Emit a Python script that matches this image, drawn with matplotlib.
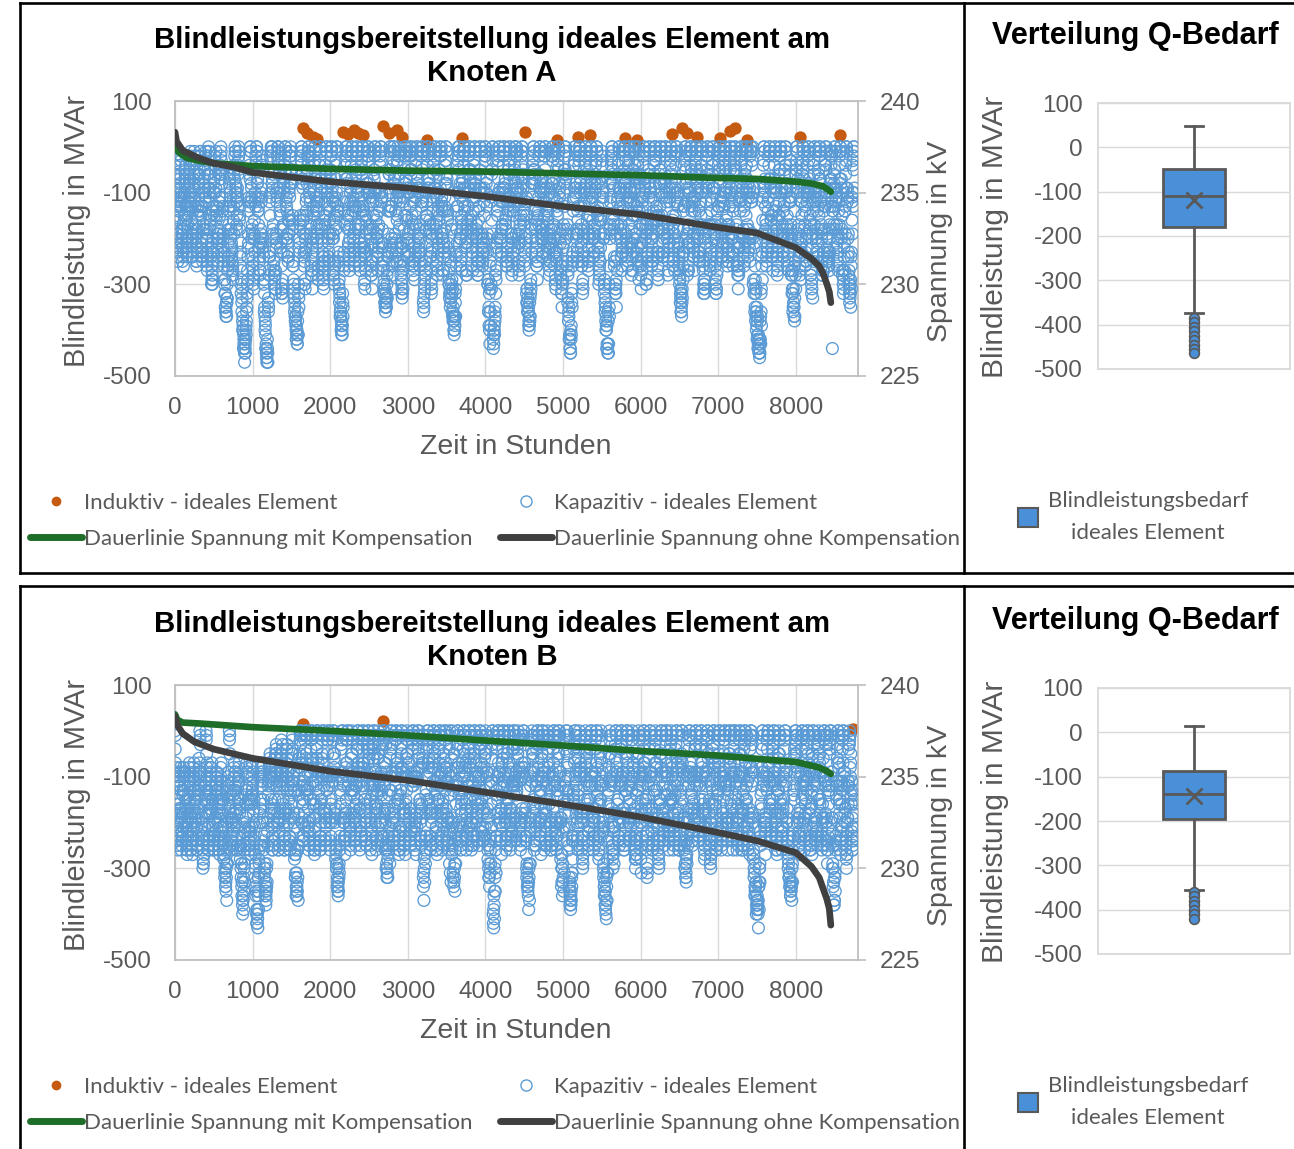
import numpy as np
import matplotlib
matplotlib.use("Agg")
import matplotlib.pyplot as plt
from matplotlib.lines import Line2D
from matplotlib.patches import Patch

# -----------------------------
# Daten (vier Reihen im 10-h-Raster, je um einige Stunden versetzt)
# Kapazitive Blindleistung kodiert:
#   klein: a = 0, b = -20, c = -40 ... x = -460 MVAr
#   gross: A = -10, B = -30, C = -50 ... X = -470 MVAr
# -----------------------------
schritt_h = 10
versatz_h = [0, 5, 2, 7]

q_kap_a_codes = ["""
adgkmhecfj lnieckmgdb fjmhcegknj dbhlmfcejg
kndbgjmpoh ecfilnkgdb dhkmpqsrnj egkmohdbfj
fcaimprtuv wvtqmhdagk npkgcaehlo kfclpsuwxv
rmgbaejnpo kfbadhlqpj ecagkmifba dinqstuvtp
libaeimpkg dbafjnolhc aehkogcaej mpnidafkmh
dafkoigcah mprsutqmgc aeilnjfbag kmhdafjnlg
cahlpmieab fjnolgdafi kmjfbaglnp qrrpmhdahl
naekmgcafj noqlgbaeim kfbadinolg caekmjfbag
rpnifbaejm pkgcafjnmh dabgkolhca eimpqnjqst
tqmhcafkni ebahlojfba dimkgcaejn ohdafkmlfb
aekpsqngda vusolhcafk mjfbaeinlg cagkomhdaf
aflnjfbadi mkgqrstrpj ecadhlnigb aejmkfbagk
hmnkfbaejm pmhcafkoqn jdaeknrtvw uqmgcafkmh
baejnpkfba dinkfbagkm jecahlpnie bfkprtuwsn
jebadinqpk gcafjmlhda ekmgcagloi dafkmhcaej
nlgbaejpmi dafjnkgcab hmoidaeimj ebagkolfba
dinkfbagln prsqmhcaek ojfbadhlmg caekmhdafj
nqpkfbaejn lgcafkpqmh caejmlgbad ilnjeafkmh
cadjnolgba ekmhdafjmk fbagkpqstu vwwvtqmgca
ejnlgbaeim kfbahmoidb afkmhdafjn kgcjoqsrnh
daekmolgca fjnkfbaeio pkgcafkmhd aejnomhcaf
kmnjebgwhd afjnkgbaek oplhcafkoq pmgcaf
""", """
BEHLJFDGKM IFCHLKGEBD GKJDBFIMLH ECAGKLGDBF
JMCAFILOMG DBEHKMJFCA CGJLORSQMI DFJLNGCAEI
EBAHLOQSUW VTRNJFCAEI MOJFBADGKN JEBKORTVXW
QLFAADIMON JEAACGKPOI DBAFJLHEAA CHMPRSTVUQ
KHAADHLOJF CAAEIMNKGB ADGJNFBADI LOMHCAEJLG
CAEJNHFBAG LOQRTUSLFB ADHKMIEAAF JLGCAEIMKF
BAGKOLHDAA EIMNKFCAEH JLIEAAFKMO PQRQLGCAGK
MADJLFBAEI MNPKFAADHL JEAACHMNKF BADJLIEAAF
QOMHEAADIL OJFBAEIMLG CAAFJNKGBA DHLOPMIPRS
SPLGBAEJMH DAAGKNIEAA CHLJFBADIM NGCAEJLKEA
ADJORPMFCA UTRNKGBAEJ LIEAADHMKF BAFJNLGCAE
AEKMIEAACH LJFPQRSQOI DBACGKMHFA ADILJEAAFJ
GLMJEAADIL OLGBAEJNPM ICADJMQSUW TPLFBAEJLG
AADIMOJEAA CHMJEAAFJL IDBAGKOMHD AEJOQSTVWR
IDAACHMPOJ FBAEILKGCA DJLFBAFKNH CAEJLGBADI
MKFAADIOLH CAEIMJFBAA GLNHCADHLI DAAFJNKEAA
CHMJEAAFKM OQRPLGBADJ NIEAACGKLF BADJLGCAEI
MPOJEAADIM KFBAEJOPLG BADILKFAAC HKMIDAEJLG
BACIMNKFAA DJLGCAEILJ EAAFJOPRST UVWVSPLFBA
DIMKFAADHL JEAAGLNHCA AEJLGCAEIM JFBINPRSQM
CADJLNKFBA EIMJEAADHN OJFBAEJLGC ADIMNLGBAE
JLMIDAFEGC AEIMJFAADJ NOKGBAEJNP OLFBAE
""", """
cfjlihdbgk mjfdilkhec gimkdbfjlh edbhkmjfcb
jmdafilnpk fbdhkmjgca eilnqsrpmh dfjlnicaeg
gdbjnqsuwv wusplgcaej moifbaehlm jgbkmqtwxw
somfaadkoq lgaacfjnqk fbadhkmieb ejnprtvusq
kjcaeinplh ecabgkomkf adgjnhcafk nomgcaekmi
ebagkpnjfa hnqsturnhd bagjmkgcah lnjebafkmh
dbahlnjfba egkomjfbag kmlhcafjnq rsqomhdafk
ocadhlifbd glpqnjebaf kmjfbagjnm hdaflnkgca
sqojgcaeim qlhdbafkol ifbahkmjea dhlpqrpstu
urnjfbaekm jgcafkoida ejnlhcafkm oidaflnkga
bfkpsuspia wutqnkfbag kjgcafjnmh dahlnkgcae
bgkoigcaeh nlgrssutqk ebaejmnkhd afkmjgbaeh
iloljebakn olgbaejnqp lfbadjosvw vrnhcaejli
caflnqmgca ejmlgcaeim kfdaeimoli cgkqsuwwtp
kgcaejmpqm hdafkmnjfb aflnhdafjm kgcadglnhd
omhcafkpnj eafkmlhdaa imnjebafjm kdafkmjgca
ejmlgcafjm oqsrnjfbag lnjfcagkmh dbafjmkgca
mpqlgbadjn mhdafjnqoi dbagkmjfca fjmkfbagkn
dbaflnolhc afjnlgcaej lkgcaflnqs tvwxvsniea
fimkhcaeil mhcafjnlgb afjmkgcaek mldgkoqrto
cafjmnkgda ehmlgcafjo qlhdagkmjf bagkomjfca
lnmkfcbhje aglmkhcafj oqmhdagmpr qnifba
""", """
DGJMKGEBFJ LHDGKLIFCA FJLEAGKMJG DBAHLMIECA
LNEAEHKNOL HCAGJLKHDB FJMORSQNKG EGKMOJDAFH
FCAGKNPTVX WUQOKGDAFJ NPLGCAFIMN KFCLOSUWXX
RNHBAEJNPP KFBBEHLPQL ECAGKMJFCA DIOQSTUVUR
LIBAEJMPLH DBAFJNPLHD AFIKOIDAEK MPNIDAFKMJ
DAFJOMIDAH MPSSUTRNID AAHKNLHDAG KMIEAAGLNI
CAHLPNJEBA FJNPMHDAEJ LNKGBAFKNP RRQNJEAAGL
PBAEKMHDAF KOQPMHCAEK LKGCAEIMOL IEAEKMLGCA
RPNKHDAEJN PMIECAFJNK HEAGJNLFBA EKNQRQOSSU
TSOKGCAFLN IEAEJNKGCA DILNJEAFJL MJEAEJMLHB
AGLOTVTPJB VUSOLHDAFK LIEAEIMLGC AFJMKHDAFJ
ADJNKHDAEI MKHPRTTSPL FCADILOMIE AEJLKHCAEI
HKNMKFBAFL PMHCAFKORO KGCAEINRUW URMJEAFJMJ
BAEKMPLGBA FJNMHDAFJL JEBAHLNMJF BFJPRTVWVS
JFBAEIMPRN IEAGJNLHEA BEKMIEAEKN LHDADHMOKF
PNIDAEJOMK FAEJLMIEAB HLOLGCAFKL JDAEIMKFBA
EIKNHDAGKL NPSQOLGCAE KNKGDAFJNI ECAEIMLHDA
NOPKHCAEIN LIEAEIMPNK GCAFJMKGBA EIMLGCAFJL
CAEKMPNJFB AEJMKHDAFK MJFBAEKOPR SUWWVTOJEA
GJLLJDAEHK NIDAEJMKHC AEILJEAEHL NKEFJNPRSP
BAEILOLHCA DGLMJFBAEI PQMIEAFLKH DAFJNNLGCA
MLNLGDAGIE AFKLNIDAEH NPNJEAFLOQ RPJGCA
"""]

q_kap_b_codes = ["""
aeimkgfjnl hefjmnkgei mnjfeikmnh fdaglnpmig
aeinmjfeim nkgfjmnige hlnoqrpkgf ajmnkhefjm
ngeinprtsp lhefilnmie gjmpruvsoj fegknqstpk
gedfjmnjfd cgknkgdbei mnjecfjmnh dbgkoqsrnh
daekmigbad hlnkfbaein lgcaehmnid afjmkfbagk
nifbadkopr rpmhcafkmj ebagkmhdaf jmkgcaejnl
gbaeimkfba dinlgcafjm hdagkmhcae jnpqomhdaf
kmjfbaeinl hcafjnmida ekmjfbagln kfbadimjeb
qomhcaeimn jebadhlnif bagkmidafj mkgcafknqr
pmgcaehlni ebafjmkgca ejnmhdafkm igcaeilmhd
afjnpqmgca uspmhcafkm jebagkmida ejnlgcagkm
hcaflnjeba ejmprrpkfb adinkgcaek mhdafjnlgb
aeimnkfbag kmhdafkorp ligcaeinrt sqmhcafjmh
caekmojfba dinlgcafjm kfbahmoida fkprstqmhd
afjnolgcae imkgcafjnm hdaekmigba ejnomhdafk
njfbaeimpk gcafjnmhca eknoidafjm kfbahlmica
einlgcaejn mhdafknpqo kfbaehlmig cafjmkgcae
ilnjfbadim okgcaeinmh daflnjfbag kmhdaeimkf
bagkmidafj nmhcaeilnj ebagkoqsru ttrpmhcafk
mkfbaeimlg cafjnmhdae ilnjfbagkn pqrsrpmhdb
aekmnjfbag kmigcaejnm hdafkmlgca eimnkfbagk
nmhcafkprt qmgcaeimlg bafjnokgca ehlnmi
""", """
AEHLJFEIML GEEIKMJFDH LMIEDHJLMG EDAFKMOLHF
ADHMLIEDHL MJFEILMHFD GKMNPQOJFE AILMJGDEIL
MFDHMOQSRO KGDEHKMLHD FILOQTUROI EDFJMPRSOJ
FDCEILMIEC BFJMJFCCEH LMIDBEILMG CAFJNPRQMG
CADJLHFAAC GKMJEAADHM KFBADGLMHC AEILJEAAFJ
MHEAACJNOQ QOLGBAEJLI DAAFJLGCAE ILJFBADIMK
FAADHLJEAA CHMKFBAEIL GCAFJLGBAD IMOPNLGCAE
JLIEAADHMK GBAEIMLHCA DJLIEAAFKM JEAACHLIDA
PNLGBADHLM IDAACGKMHE AAFJLHCAEI LJFBAEJMPQ
OLFBADGKMH DAAEILJFBA DIMLGCAEJL HFBADHKLGC
AEIMOPLFBA TROLGBAEJL IDAAFJLHCA DIMKFBAFJL
GBAEKMIDAA DILOQQOJEA ACHMJFBADJ LGCAEIMKFA
ADHLMJEAAF JLGCAEJNQO KHFBADHMQS RPLGBAEILG
BADJLNIEAA CHMKFBAEIL JEAAGLNHCA EJOQRSPLGC
AEIMNKFBAD HLJFBAEIML GCADJLHFAA DIMNLGCAEJ
MIEAADHLOJ FBAEIMLGBA DJMNHCAEIL JEAAGKLHBA
DHMKFBADIM LGCAEJMOPN JEAADGKLHF BAEILJFBAD
HKMIEAACHL NJFBADHMLG CAEKMIEAAF JLGCADHLJE
AAFJLHCAEI MLGBADHKMI DAAFJNPRQT SSQOLGBAEJ
LJEAADHLKF BAEIMLGCAD HKMIEAAFJM OPQRQOLGCA
ADJLMIEAAF JLHFBADIML GCAEJLKFBA DHLMJEAAFJ
MLGBAEJOQS PLFBADHLKF AAEIMNJFBA DGKMLH
""", """
cfjnligekm jfgkmnlhfj nlkgfhjmnj gebfkmomjh
bfjnkhegjn mlhfhknmjf ijmoprqnig bhkmljfgkn
ohfjoqsuqn kigfjmnlhf hknqsvuqnk gefimprsrl
hfeginmkge dgjnljfdcg knjfdgkmni ecfjnqrsqj
ebagkmjfca gkmlgcadim nidafjmnkf bagkmjfbaf
mkgbaejnpq sqnifbagkm jfbaflnjeb hkmigcafkm
ecagkmjfca cgkmhdagkn idbfjmkfba gknpqnjfca
lmkgbadhmn ieaejmljfb bfjmlgcafk mjfcaekmid
rpnjfbadjm kgcaejnmjg cafjnljeba ekmnlhdagk
qnieagkmmj fcaeinlgda ekmkgcafjm jfbaflmjec
bgkoqrnida vtqnjfbagk mhdafjnkgc afkmlgcafj
gdbekmkfba fkmqrsqlgc bejmlgbafk lifbaekmjc
bfkmnlgcag lnkebagkps qmjfbafjqs tromidagkn
dbfjnpkgcb ejmlgcagkn lgcaeinkgb glqsturoie
bgkmpnjdaf jmkgcagkmn jfbagkmjfb fkmpomiebg
okgcafjnql hdaflnkgcb fjmpmieagk lhdafknlgb
fjmkhdagkn lieagkmpqm lgcafjmljf cagkmlgcaf
jmokgcaejn pmidafjnlh ebagkmjfba gknkgdafjn
cahlnkfbag lnjfbagkml fcaejnprst surplieagk
ljgcafjmki dbagkmnjfb jmligcaekm oqrsrnkgca
bfjnlkgcah lnjfbafjmn ieagkmlhdb fjmlidafjm
mnigbaglpt qnhdagjnmi cagkmpligb fimnjh
""", """
DHKMIFEGJL KGEHKNLIFG JMNKGFHKMI GEBEJLONKG
CGKMLIFHKM LJGEGJLNKH FHLNPRSOKH CGJLMKHEGK
MHFIMOQSTQ MJGEHKMNKG EHKNRTVTPM HFEHLOQRQM
FEDHKLMKHE CEHLMIEDBF JLMKGEHLMJ FCEGKNPRSM
FBADHLKGDA EIMLHDAFJN MJEAEIMLHD AEIMKGCAEI
LJFCAEIMOR RPMJEAFJNL HDAEKMKGCA GJMKHDAEIL
FDBAHLMIDB AEJNLGCAEI MKFBAEIMLH DBEILMOKGB
MLJEAEHLNK GCAEIMNKGC ADIMKFBAEJ NKFBAHLMJD
SQOLHDAEIL MJFBAFKNLH DBAEIMKGDA FJMOPQNKGC
ROKFBAEILL KGCADHLMKH CAFJMLHDAE IMKGBAEILK
CAEJMPOKEA VURPLHDAEI NKFCAEIMLH DAEILJFBAE
FCAFJLJEAB GLNPRTSOKF CAEIMKFBAG LNJFBAEIMH
CAGKMMIDAF KMLGCAEJNQ RPKGCAGKRT SPLHDAFJMK
EAEIMOLHDA FIMKHDAEJL MIDAFJMLHD FKPRTUSPKF
CAFKNOKEAE HLMJFBAEIM KGCAEJLKGC EJLNNKGCAF
PLHDAEIMPM IEAEJMKGDA GKNOLHCAEJ MIEAEJLKHC
GKLLIEAFJM MKHDAEJNQO MIEAEIMKIE BAEJLKHDAE
KLNJEAFKMO NLGCAEIMKG DAFJLKHCAF JLJFCAEILK
DAEILMJFCA EIMKHDAFJL NJEBAEKOQS TVTQMIEAFK
NKGDAFILLH CAFJLNKGCA FJLKHDAEIL NPQRSQLHEB
CAEJLNLHDA FJLKGCAEIM NKFBAEJMLH CAEJLMJFBA
OKGCAEJMQS RMHDAFJNKG DAEILNJFBA CFJLKG
"""]

# induktive Blindleistung (einzelne Stunden)
h_ind_a = [1650, 1700, 1780, 1830, 2170, 2230, 2300, 2360, 2420, 2680, 2760, 2860, 2930, 3250, 3700, 4510,
           4920, 5190, 5350, 5800, 5950, 6400, 6530, 6600, 6720, 7020, 7150, 7220, 7370, 8050, 8570]
q_ind_a = [41, 30, 22, 18, 33, 28, 36, 30, 25, 46, 30, 37, 22, 15, 20, 33,
           15, 22, 26, 20, 15, 28, 41, 30, 22, 20, 35, 41, 15, 22, 26]
h_ind_b = [1650, 2680, 8740]
q_ind_b = [14, 21, 3]

# Dauerlinien Spannung in kV
h_mit_a = [0, 50, 150, 300, 500, 1000, 2000, 3000, 4000, 5000, 6000, 7000, 7500, 8000, 8200, 8350, 8450]
u_mit_a = [237.5, 237.2, 236.9, 236.75, 236.6, 236.45, 236.3, 236.2, 236.15, 236.05, 235.95, 235.8, 235.75,
           235.6, 235.5, 235.35, 235.05]
h_ohne_a = [0, 20, 100, 300, 500, 750, 1000, 2000, 3000, 4000, 5000, 6000, 7000, 7500, 8000, 8200, 8300,
            8350, 8400, 8430, 8450]
u_ohne_a = [238.3, 237.8, 237.3, 236.9, 236.6, 236.4, 236.1, 235.6, 235.25, 234.8, 234.25, 233.8, 233.1,
            232.8, 232.0, 231.4, 231.0, 230.6, 230.0, 229.6, 229.0]
h_mit_b = [0, 30, 100, 320, 1000, 2000, 3000, 4000, 5000, 6000, 7000, 8000, 8300, 8400, 8450]
u_mit_b = [238.4, 238.1, 237.95, 237.9, 237.7, 237.5, 237.25, 236.97, 236.7, 236.4, 236.15, 235.8, 235.5,
           235.3, 235.15]
h_ohne_b = [0, 30, 100, 250, 500, 1000, 2000, 3000, 4000, 5000, 6000, 7000, 7500, 8000, 8200, 8300, 8350,
            8400, 8430, 8450]
u_ohne_b = [238.3, 237.8, 237.35, 236.9, 236.5, 236.0, 235.3, 234.8, 234.15, 233.5, 232.8, 231.95, 231.5,
            230.85, 230.1, 229.5, 228.9, 228.3, 227.8, 226.9]

# Boxplot-Kennwerte Q-Bedarf
box_a = dict(whishi=48, q3=-49, med=-110, mean=-119, q1=-180, whislo=-373,
             fliers=[-385, -395, -405, -415, -425, -435, -445, -455, -464])
box_b = dict(whishi=15, q3=-88, med=-139, mean=-143, q1=-195, whislo=-355,
             fliers=[-360, -370, -380, -390, -400, -410, -420])

x_ticks = [0, 1000, 2000, 3000, 4000, 5000, 6000, 7000, 8000]
q_ticks = [100, -100, -300, -500]
u_ticks = [240, 235, 230, 225]
box_ticks = [100, 0, -100, -200, -300, -400, -500]


def dekodieren(code):
    werte = []
    for c in "".join(code.split()):
        if c.islower():
            werte.append(-20 * (ord(c) - ord("a")))
        else:
            werte.append(-20 * (ord(c) - ord("A")) - 10)
    return werte


def zeitreihe(codes):
    hs, qs = [], []
    for code, off in zip(codes, versatz_h):
        q = dekodieren(code)
        hs.append(np.arange(len(q)) * schritt_h + off)
        qs.append(q)
    h = np.concatenate(hs)
    q = np.concatenate(qs)
    idx = np.argsort(h, kind="stable")
    return h[idx], q[idx]


h_kap_a, q_kap_a = zeitreihe(q_kap_a_codes)
h_kap_b, q_kap_b = zeitreihe(q_kap_b_codes)

# -----------------------------
# Stil
# -----------------------------
W, H = 1294, 1149
grau = "#595959"
blau = "#5B9BD5"
orange = "#C55A11"
gruen = "#1E6E2A"
schwarz = "#404040"
box_blau = "#4A90D9"
leg_font = "Lato"
plt.rcParams["font.family"] = ["Liberation Sans", "DejaVu Sans"]
plt.rcParams["axes.unicode_minus"] = False

fig = plt.figure(figsize=(W / 100, H / 100), dpi=100)


def fx(x):
    return x / W


def fy(y):
    return 1 - y / H


def achse(l, t, r, b):
    return fig.add_axes([fx(l), fy(b), fx(r) - fx(l), fy(t) - fy(b)])


def hauptdiagramm(y0, h_kap, q_kap, h_ind, q_ind, h_mit, u_mit, h_ohne, u_ohne, knoten):
    ax = achse(175, y0, 858, y0 + 275)
    ax.scatter(h_ind, q_ind, s=62, color=orange, zorder=2)
    ax.scatter(h_kap, q_kap, s=72, facecolors="none", edgecolors=blau, linewidths=0.95, zorder=3)
    ax.set_xlim(0, 8800)
    ax.set_ylim(-500, 100)
    ax.set_xticks(x_ticks)
    ax.set_yticks(q_ticks)
    ax.grid(True, color="#D9D9D9", lw=1)
    ax.set_axisbelow(True)
    for s in ax.spines.values():
        s.set_color("#BFBFBF")
        s.set_linewidth(1.3)
    ax.tick_params(length=0, labelsize=17.5, labelcolor=grau)
    ax.tick_params(axis="y", pad=17)
    ax.tick_params(axis="x", pad=15)

    ax2 = ax.twinx()
    ax2.plot(h_mit, u_mit, color=gruen, lw=4.8, solid_capstyle="round", zorder=4)
    ax2.plot(h_ohne, u_ohne, color=schwarz, lw=4.8, solid_capstyle="round", zorder=4)
    ax2.set_ylim(225, 240)
    ax2.set_yticks(u_ticks)
    for s in ax2.spines.values():
        s.set_visible(False)
    ax2.tick_params(axis="y", length=6, color="#BFBFBF", width=1.2, pad=10, labelsize=17.5,
                    labelcolor=grau)

    fig.text(fx(492), fy(y0 - 61), "Blindleistungsbereitstellung ideales Element am",
             ha="center", va="center", fontsize=21.2, weight="bold")
    fig.text(fx(492), fy(y0 - 28), "Knoten " + knoten,
             ha="center", va="center", fontsize=21.2, weight="bold")
    fig.text(fx(77), fy(y0 + 130), "Blindleistung in MVAr", rotation=90, ha="center", va="center",
             fontsize=20.8, color=grau)
    fig.text(fx(940), fy(y0 + 140), "Spannung in kV", rotation=90, ha="center", va="center",
             fontsize=20.5, color=grau)
    fig.text(fx(516), fy(y0 + 346), "Zeit in Stunden", ha="center", va="center",
             fontsize=20.5, color=grau)

    h1 = Line2D([], [], ls="none", marker="o", ms=6, color=orange)
    h2 = Line2D([], [], color=gruen, lw=5, solid_capstyle="round")
    h3 = Line2D([], [], ls="none", marker="o", ms=8, mfc="white", mec=blau, mew=1)
    h4 = Line2D([], [], color=schwarz, lw=5, solid_capstyle="round")
    ly = y0 + 420
    for x0, hs, labs in [(30, [h1, h2], ["Induktiv - ideales Element", "Dauerlinie Spannung mit Kompensation"]),
                         (500, [h3, h4], ["Kapazitiv - ideales Element", "Dauerlinie Spannung ohne Kompensation"])]:
        fig.legend(hs, labs, loc="center left", bbox_to_anchor=(fx(x0), fy(ly)), frameon=False,
                   borderpad=0, borderaxespad=0, handlelength=2.35, handletextpad=0.1, labelspacing=0.72,
                   prop={"family": leg_font, "size": 16}, labelcolor=grau)


def boxdiagramm(y0, stats):
    ax = achse(1098, y0, 1290, y0 + 266)
    ax.bxp([stats], positions=[1], widths=0.32, capwidths=0.09, showmeans=True, patch_artist=True,
           boxprops=dict(facecolor=box_blau, edgecolor=grau, lw=2),
           whiskerprops=dict(color=grau, lw=2), capprops=dict(color=grau, lw=2),
           medianprops=dict(color=grau, lw=2),
           meanprops=dict(marker="x", mec=grau, ms=12, mew=2),
           flierprops=dict(marker="o", mfc=box_blau, mec=grau, ms=7, mew=1.2))
    ax.set_xlim(0.5, 1.5)
    ax.set_ylim(-500, 100)
    ax.set_yticks(box_ticks)
    ax.set_xticks([])
    ax.grid(True, axis="y", color="#D9D9D9", lw=1)
    ax.set_axisbelow(True)
    for s in ax.spines.values():
        s.set_color("#D9D9D9")
        s.set_linewidth(1.3)
    ax.tick_params(length=0, labelsize=17.5, labelcolor=grau, pad=11)

    fig.text(fx(1135), fy(y0 - 67), "Verteilung Q-Bedarf", ha="center", va="center",
             fontsize=22, weight="bold")
    fig.text(fx(995), fy(y0 + 134), "Blindleistung in MVAr", rotation=90, ha="center", va="center",
             fontsize=21.5, color=grau)
    leg = fig.legend([Patch(facecolor=box_blau, edgecolor=grau, lw=1.5)],
                     ["Blindleistungsbedarf\nideales Element"], loc="center left",
                     bbox_to_anchor=(fx(1018), fy(y0 + 414)), frameon=False, borderpad=0, borderaxespad=0,
                     handlelength=0.9, handleheight=0.9, handletextpad=0.45,
                     prop={"family": leg_font, "size": 16}, labelcolor=grau)
    for t in leg.get_texts():
        t.set_multialignment("center")
        t.set_linespacing(1.75)


hauptdiagramm(101, h_kap_a, q_kap_a, h_ind_a, q_ind_a, h_mit_a, u_mit_a, h_ohne_a, u_ohne_a, "A")
hauptdiagramm(685, h_kap_b, q_kap_b, h_ind_b, q_ind_b, h_mit_b, u_mit_b, h_ohne_b, u_ohne_b, "B")
boxdiagramm(103, box_a)
boxdiagramm(688, box_b)

# Rahmen
rahmen = dict(color="black", lw=1.9, transform=fig.transFigure)
for y_top, y_bot in [(3, 573), (586, 1160)]:
    fig.add_artist(Line2D([fx(20), fx(1300)], [fy(y_top), fy(y_top)], **rahmen))
    fig.add_artist(Line2D([fx(20), fx(1300)], [fy(y_bot), fy(y_bot)], **rahmen))
    fig.add_artist(Line2D([fx(20), fx(20)], [fy(y_top), fy(y_bot)], **rahmen))
    fig.add_artist(Line2D([fx(964), fx(964)], [fy(y_top), fy(y_bot)], **rahmen))

fig.savefig("out.png", dpi=100)
